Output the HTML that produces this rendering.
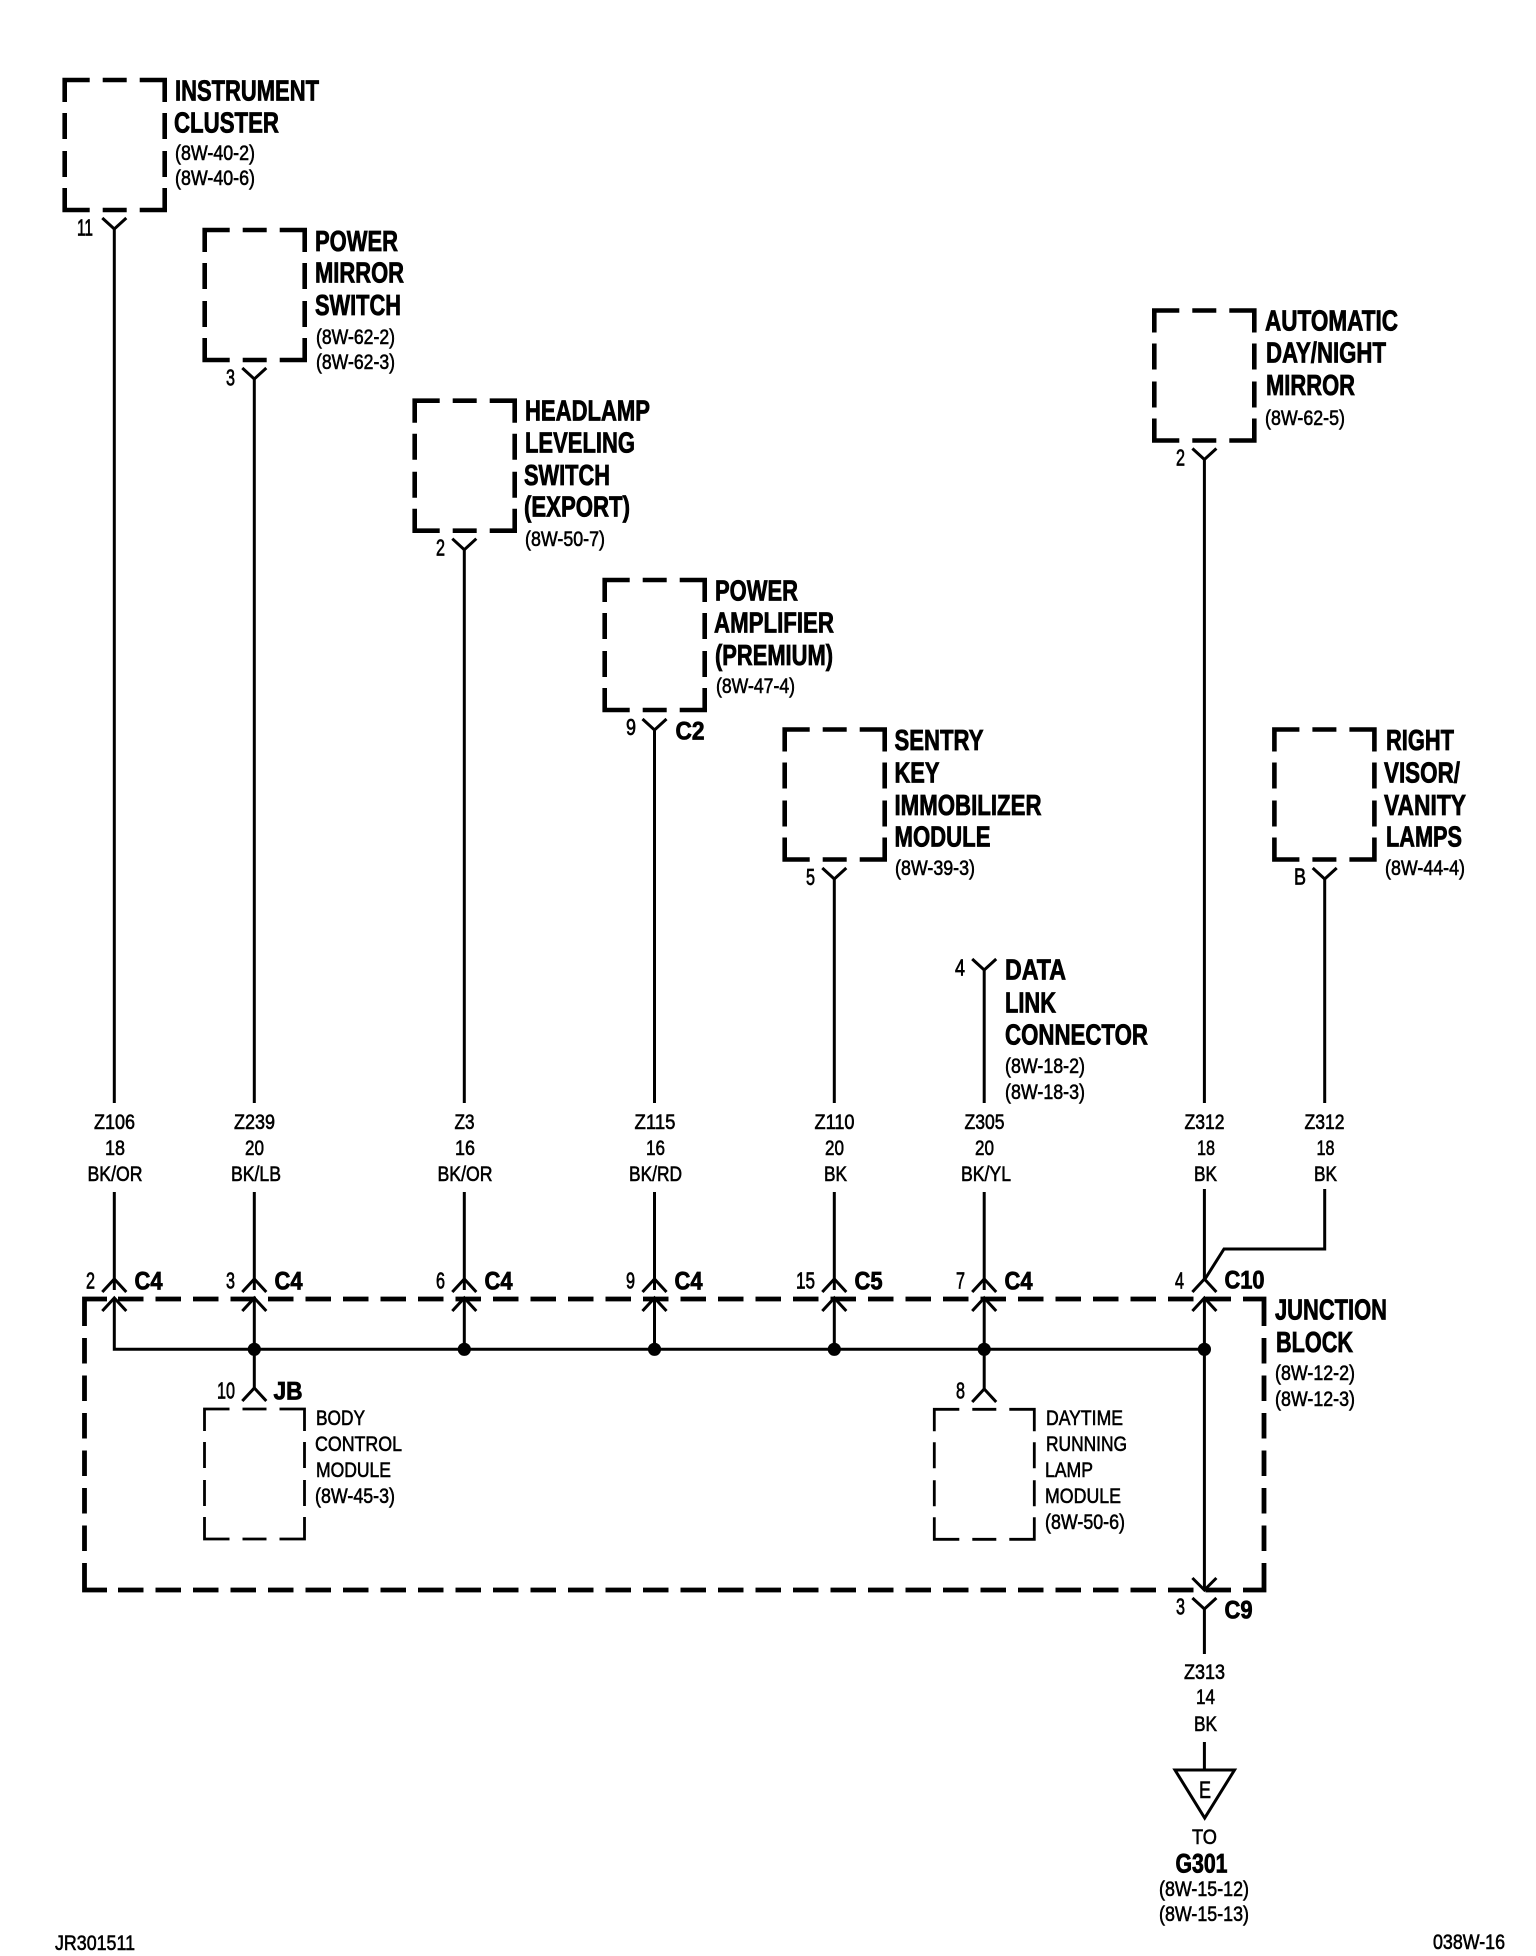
<!DOCTYPE html>
<html>
<head>
<meta charset="utf-8">
<style>
html,body{margin:0;padding:0;background:#fff}
svg{display:block}
text{font-family:"Liberation Sans",Arial,sans-serif;fill:#000;stroke:#000}
.b{font-weight:bold;font-size:29px;stroke-width:.8px;transform:translate(-1px,0)}
.r{font-size:21.5px;stroke-width:.6px;transform:translate(0,-1px)}
.n{font-size:23px;stroke-width:.7px;transform:translate(0,-.5px)}
.c{font-size:25px;font-weight:bold;stroke-width:.8px;transform:translate(-.5px,-.5px)}
.m{text-anchor:middle}
</style>
</head>
<body>
<svg xmlns="http://www.w3.org/2000/svg" width="1536" height="1956" viewBox="0 0 1536 1956">
<rect width="1536" height="1956" fill="#fff"/>
<defs>
<path id="box" fill="none" stroke="#000" d="M0 22V0H25M38 0H62M75 0H100V22M100 33V59M100 71V97M100 108V130H75M62 130H38M25 130H0V108M0 97V71M0 59V33"/>
<path id="yc" fill="none" stroke="#000" stroke-width="3" d="M-12 0L0 11L12 0"/>
<path id="ac" fill="none" stroke="#000" stroke-width="3" d="M-12 13L0 0L12 13"/>
</defs>

<!-- component boxes -->
<g stroke-width="4.6">
<use href="#box" x="64.7" y="80"/>
<use href="#box" x="204.7" y="230"/>
<use href="#box" x="414.7" y="400.7"/>
<use href="#box" x="604.7" y="580"/>
<use href="#box" x="784.7" y="729.5"/>
<use href="#box" x="1154.3" y="310.5"/>
<use href="#box" x="1274.4" y="729.5"/>
</g>
<g stroke-width="2.8">
<use href="#box" x="204.5" y="1409"/>
<use href="#box" x="934.3" y="1409.3"/>
</g>

<!-- junction block -->
<g fill="none" stroke="#000" stroke-width="4.8">
<path d="M84.5 1326V1299H107M1243 1299H1264V1326M84.5 1565V1590H107M1243 1590H1264V1565"/>
<path stroke-dasharray="25.5 12" d="M118 1299H1243M118 1590H1243M84.5 1338V1565M1264 1338V1565"/>
</g>

<!-- wires -->
<g fill="none" stroke="#000" stroke-width="3">
<path d="M114.3 229V1103M114.3 1192V1290"/>
<path d="M254.3 379V1103M254.3 1192V1290"/>
<path d="M464.3 549V1103M464.3 1192V1290"/>
<path d="M654.5 730V1103M654.5 1192V1290"/>
<path d="M834.3 879V1103M834.3 1192V1290"/>
<path d="M984.2 970V1103M984.2 1192V1290"/>
<path d="M1204.4 459V1103M1204.4 1189V1280"/>
<path d="M1324.7 879V1103M1324.7 1189V1249H1224L1204.4 1280"/>
<path d="M114.3 1298V1349.3H1204.4M254.3 1298V1388M464.3 1298V1349M654.5 1298V1349M834.3 1298V1349M984.2 1298V1390M1204.4 1298V1590"/>
<path d="M1204.4 1609V1654M1204.4 1742V1770"/>
<path stroke-width="3" d="M1175 1770H1234.5L1204.7 1818Z"/>
<path d="M1192.4 1578L1204.4 1590L1216.4 1578"/>
</g>

<!-- connector symbols -->
<use href="#yc" x="114.3" y="218"/>
<use href="#yc" x="254.3" y="368"/>
<use href="#yc" x="464.3" y="538.7"/>
<use href="#yc" x="654.5" y="719"/>
<use href="#yc" x="834.3" y="868"/>
<use href="#yc" x="984.2" y="959"/>
<use href="#yc" x="1204.4" y="448.5"/>
<use href="#yc" x="1324.7" y="868"/>
<use href="#yc" x="1204.4" y="1598"/>
<g>
<use href="#ac" x="114.3" y="1279"/><use href="#ac" x="114.3" y="1298"/>
<use href="#ac" x="254.3" y="1279"/><use href="#ac" x="254.3" y="1298"/>
<use href="#ac" x="464.3" y="1279"/><use href="#ac" x="464.3" y="1298"/>
<use href="#ac" x="654.5" y="1279"/><use href="#ac" x="654.5" y="1298"/>
<use href="#ac" x="834.3" y="1279"/><use href="#ac" x="834.3" y="1298"/>
<use href="#ac" x="984.2" y="1279"/><use href="#ac" x="984.2" y="1298"/>
<use href="#ac" x="1204.4" y="1279"/><use href="#ac" x="1204.4" y="1298"/>
<use href="#ac" x="254.3" y="1388"/>
<use href="#ac" x="984.2" y="1389"/>
</g>
<!-- splice dots -->
<g fill="#000">
<circle cx="254.3" cy="1349.3" r="6.6"/>
<circle cx="464.3" cy="1349.3" r="6.6"/>
<circle cx="654.5" cy="1349.3" r="6.6"/>
<circle cx="834.3" cy="1349.3" r="6.6"/>
<circle cx="984.2" cy="1349.3" r="6.6"/>
<circle cx="1204.4" cy="1349.3" r="6.6"/>
</g>

<!-- component labels -->
<text class="b" x="176" y="100.7" textLength="144" lengthAdjust="spacingAndGlyphs">INSTRUMENT</text>
<text class="b" x="175" y="132.7" textLength="105" lengthAdjust="spacingAndGlyphs">CLUSTER</text>
<text class="r" x="175" y="161" textLength="80" lengthAdjust="spacingAndGlyphs">(8W-40-2)</text>
<text class="r" x="175" y="186" textLength="80" lengthAdjust="spacingAndGlyphs">(8W-40-6)</text>

<text class="b" x="316" y="251" textLength="83" lengthAdjust="spacingAndGlyphs">POWER</text>
<text class="b" x="316" y="282.7" textLength="89" lengthAdjust="spacingAndGlyphs">MIRROR</text>
<text class="b" x="316" y="315" textLength="86" lengthAdjust="spacingAndGlyphs">SWITCH</text>
<text class="r" x="316" y="345" textLength="79" lengthAdjust="spacingAndGlyphs">(8W-62-2)</text>
<text class="r" x="316" y="370" textLength="79" lengthAdjust="spacingAndGlyphs">(8W-62-3)</text>

<text class="b" x="526" y="420.7" textLength="125" lengthAdjust="spacingAndGlyphs">HEADLAMP</text>
<text class="b" x="526" y="452.7" textLength="110" lengthAdjust="spacingAndGlyphs">LEVELING</text>
<text class="b" x="525" y="485" textLength="86" lengthAdjust="spacingAndGlyphs">SWITCH</text>
<text class="b" x="525" y="516.7" textLength="106" lengthAdjust="spacingAndGlyphs">(EXPORT)</text>
<text class="r" x="525" y="547" textLength="80" lengthAdjust="spacingAndGlyphs">(8W-50-7)</text>

<text class="b" x="716" y="600.7" textLength="83" lengthAdjust="spacingAndGlyphs">POWER</text>
<text class="b" x="715" y="632.7" textLength="120" lengthAdjust="spacingAndGlyphs">AMPLIFIER</text>
<text class="b" x="716" y="665" textLength="118" lengthAdjust="spacingAndGlyphs">(PREMIUM)</text>
<text class="r" x="716" y="694" textLength="79" lengthAdjust="spacingAndGlyphs">(8W-47-4)</text>

<text class="b" x="895.5" y="750" textLength="89" lengthAdjust="spacingAndGlyphs">SENTRY</text>
<text class="b" x="895.5" y="782.7" textLength="45" lengthAdjust="spacingAndGlyphs">KEY</text>
<text class="b" x="895.5" y="815" textLength="147" lengthAdjust="spacingAndGlyphs">IMMOBILIZER</text>
<text class="b" x="895.5" y="846.7" textLength="96" lengthAdjust="spacingAndGlyphs">MODULE</text>
<text class="r" x="895" y="876" textLength="80" lengthAdjust="spacingAndGlyphs">(8W-39-3)</text>

<text class="b" x="1006" y="979.3" textLength="61" lengthAdjust="spacingAndGlyphs">DATA</text>
<text class="b" x="1006" y="1012.7" textLength="51" lengthAdjust="spacingAndGlyphs">LINK</text>
<text class="b" x="1006" y="1044.3" textLength="143" lengthAdjust="spacingAndGlyphs">CONNECTOR</text>
<text class="r" x="1005" y="1074" textLength="80" lengthAdjust="spacingAndGlyphs">(8W-18-2)</text>
<text class="r" x="1005" y="1100" textLength="80" lengthAdjust="spacingAndGlyphs">(8W-18-3)</text>

<text class="b" x="1266" y="330.7" textLength="133" lengthAdjust="spacingAndGlyphs">AUTOMATIC</text>
<text class="b" x="1267" y="362.7" textLength="120" lengthAdjust="spacingAndGlyphs">DAY/NIGHT</text>
<text class="b" x="1267" y="395" textLength="89" lengthAdjust="spacingAndGlyphs">MIRROR</text>
<text class="r" x="1265" y="426" textLength="80" lengthAdjust="spacingAndGlyphs">(8W-62-5)</text>

<text class="b" x="1387" y="750" textLength="68" lengthAdjust="spacingAndGlyphs">RIGHT</text>
<text class="b" x="1385" y="782.7" textLength="76" lengthAdjust="spacingAndGlyphs">VISOR/</text>
<text class="b" x="1385" y="815" textLength="82" lengthAdjust="spacingAndGlyphs">VANITY</text>
<text class="b" x="1387" y="846.7" textLength="76" lengthAdjust="spacingAndGlyphs">LAMPS</text>
<text class="r" x="1385" y="876" textLength="80" lengthAdjust="spacingAndGlyphs">(8W-44-4)</text>

<text class="b" x="1276" y="1319.5" textLength="112" lengthAdjust="spacingAndGlyphs">JUNCTION</text>
<text class="b" x="1277" y="1352" textLength="77" lengthAdjust="spacingAndGlyphs">BLOCK</text>
<text class="r" x="1275" y="1381" textLength="80" lengthAdjust="spacingAndGlyphs">(8W-12-2)</text>
<text class="r" x="1275" y="1407" textLength="80" lengthAdjust="spacingAndGlyphs">(8W-12-3)</text>

<text class="r" x="316" y="1426.2" textLength="49" lengthAdjust="spacingAndGlyphs">BODY</text>
<text class="r" x="315" y="1452.2" textLength="87" lengthAdjust="spacingAndGlyphs">CONTROL</text>
<text class="r" x="316" y="1478.2" textLength="75" lengthAdjust="spacingAndGlyphs">MODULE</text>
<text class="r" x="315" y="1504" textLength="80" lengthAdjust="spacingAndGlyphs">(8W-45-3)</text>

<text class="r" x="1046" y="1426" textLength="77" lengthAdjust="spacingAndGlyphs">DAYTIME</text>
<text class="r" x="1046" y="1452" textLength="81" lengthAdjust="spacingAndGlyphs">RUNNING</text>
<text class="r" x="1045" y="1478" textLength="48" lengthAdjust="spacingAndGlyphs">LAMP</text>
<text class="r" x="1045" y="1504" textLength="76" lengthAdjust="spacingAndGlyphs">MODULE</text>
<text class="r" x="1045" y="1530" textLength="80" lengthAdjust="spacingAndGlyphs">(8W-50-6)</text>

<!-- pin numbers -->
<text class="n" x="77" y="236" textLength="16" lengthAdjust="spacingAndGlyphs">11</text>
<text class="n" x="226" y="386" textLength="9" lengthAdjust="spacingAndGlyphs">3</text>
<text class="n" x="436" y="556" textLength="9" lengthAdjust="spacingAndGlyphs">2</text>
<text class="n" x="626" y="735.5" textLength="10" lengthAdjust="spacingAndGlyphs">9</text>
<text class="c" x="676" y="740" textLength="29" lengthAdjust="spacingAndGlyphs">C2</text>
<text class="n" x="806" y="885.7" textLength="9" lengthAdjust="spacingAndGlyphs">5</text>
<text class="n" x="955" y="976" textLength="10" lengthAdjust="spacingAndGlyphs">4</text>
<text class="n" x="1176" y="466" textLength="9" lengthAdjust="spacingAndGlyphs">2</text>
<text class="n" x="1294" y="885" textLength="12" lengthAdjust="spacingAndGlyphs">B</text>

<text class="n" x="86" y="1289" textLength="9" lengthAdjust="spacingAndGlyphs">2</text>
<text class="c" x="135" y="1290" textLength="28" lengthAdjust="spacingAndGlyphs">C4</text>
<text class="n" x="226" y="1289" textLength="9" lengthAdjust="spacingAndGlyphs">3</text>
<text class="c" x="275" y="1290" textLength="28" lengthAdjust="spacingAndGlyphs">C4</text>
<text class="n" x="436" y="1289" textLength="9" lengthAdjust="spacingAndGlyphs">6</text>
<text class="c" x="485" y="1290" textLength="28" lengthAdjust="spacingAndGlyphs">C4</text>
<text class="n" x="626" y="1289" textLength="9" lengthAdjust="spacingAndGlyphs">9</text>
<text class="c" x="675" y="1290" textLength="28" lengthAdjust="spacingAndGlyphs">C4</text>
<text class="n" x="796" y="1289" textLength="19" lengthAdjust="spacingAndGlyphs">15</text>
<text class="c" x="855" y="1290" textLength="28" lengthAdjust="spacingAndGlyphs">C5</text>
<text class="n" x="956" y="1289" textLength="9" lengthAdjust="spacingAndGlyphs">7</text>
<text class="c" x="1005" y="1290" textLength="28" lengthAdjust="spacingAndGlyphs">C4</text>
<text class="n" x="1175" y="1289" textLength="9" lengthAdjust="spacingAndGlyphs">4</text>
<text class="c" x="1225" y="1289" textLength="40" lengthAdjust="spacingAndGlyphs">C10</text>
<text class="n" x="217" y="1399" textLength="18" lengthAdjust="spacingAndGlyphs">10</text>
<text class="c" x="274" y="1400" textLength="29" lengthAdjust="spacingAndGlyphs">JB</text>
<text class="n" x="956" y="1399" textLength="9" lengthAdjust="spacingAndGlyphs">8</text>
<text class="n" x="1176" y="1615" textLength="9" lengthAdjust="spacingAndGlyphs">3</text>
<text class="c" x="1225" y="1619" textLength="28" lengthAdjust="spacingAndGlyphs">C9</text>

<!-- wire labels -->
<text class="r m" x="114.5" y="1130" textLength="41" lengthAdjust="spacingAndGlyphs">Z106</text>
<text class="r m" x="115" y="1156" textLength="20" lengthAdjust="spacingAndGlyphs">18</text>
<text class="r m" x="115" y="1182" textLength="55" lengthAdjust="spacingAndGlyphs">BK/OR</text>

<text class="r m" x="254.5" y="1130" textLength="41" lengthAdjust="spacingAndGlyphs">Z239</text>
<text class="r m" x="254.5" y="1156" textLength="19" lengthAdjust="spacingAndGlyphs">20</text>
<text class="r m" x="256" y="1182" textLength="50" lengthAdjust="spacingAndGlyphs">BK/LB</text>

<text class="r m" x="464.5" y="1130" textLength="20" lengthAdjust="spacingAndGlyphs">Z3</text>
<text class="r m" x="465" y="1156" textLength="20" lengthAdjust="spacingAndGlyphs">16</text>
<text class="r m" x="465" y="1182" textLength="55" lengthAdjust="spacingAndGlyphs">BK/OR</text>

<text class="r m" x="655" y="1130" textLength="41" lengthAdjust="spacingAndGlyphs">Z115</text>
<text class="r m" x="655.5" y="1156" textLength="19" lengthAdjust="spacingAndGlyphs">16</text>
<text class="r m" x="655.5" y="1182" textLength="53" lengthAdjust="spacingAndGlyphs">BK/RD</text>

<text class="r m" x="834.5" y="1130" textLength="40" lengthAdjust="spacingAndGlyphs">Z110</text>
<text class="r m" x="834.5" y="1156" textLength="19" lengthAdjust="spacingAndGlyphs">20</text>
<text class="r m" x="835.5" y="1182" textLength="23" lengthAdjust="spacingAndGlyphs">BK</text>

<text class="r m" x="984.5" y="1130" textLength="40" lengthAdjust="spacingAndGlyphs">Z305</text>
<text class="r m" x="984.5" y="1156" textLength="19" lengthAdjust="spacingAndGlyphs">20</text>
<text class="r m" x="986" y="1182" textLength="50" lengthAdjust="spacingAndGlyphs">BK/YL</text>

<text class="r m" x="1204.5" y="1130" textLength="40" lengthAdjust="spacingAndGlyphs">Z312</text>
<text class="r m" x="1206" y="1156" textLength="18" lengthAdjust="spacingAndGlyphs">18</text>
<text class="r m" x="1205.5" y="1182" textLength="23" lengthAdjust="spacingAndGlyphs">BK</text>

<text class="r m" x="1324.5" y="1130" textLength="40" lengthAdjust="spacingAndGlyphs">Z312</text>
<text class="r m" x="1325.5" y="1156" textLength="18" lengthAdjust="spacingAndGlyphs">18</text>
<text class="r m" x="1325.5" y="1182" textLength="23" lengthAdjust="spacingAndGlyphs">BK</text>

<text class="r m" x="1204.5" y="1680" textLength="41" lengthAdjust="spacingAndGlyphs">Z313</text>
<text class="r m" x="1205.5" y="1705" textLength="19" lengthAdjust="spacingAndGlyphs">14</text>
<text class="r m" x="1205.5" y="1732" textLength="23" lengthAdjust="spacingAndGlyphs">BK</text>

<text class="r m" x="1205" y="1799" style="font-size:24px" textLength="12" lengthAdjust="spacingAndGlyphs">E</text>
<text class="r m" x="1204.5" y="1845" textLength="25" lengthAdjust="spacingAndGlyphs">TO</text>
<text class="c m" x="1202" y="1873" style="font-size:27px" textLength="52" lengthAdjust="spacingAndGlyphs">G301</text>
<text class="r m" x="1204" y="1897" textLength="90" lengthAdjust="spacingAndGlyphs">(8W-15-12)</text>
<text class="r m" x="1204" y="1922" textLength="90" lengthAdjust="spacingAndGlyphs">(8W-15-13)</text>

<text class="r" x="55" y="1951" textLength="80" lengthAdjust="spacingAndGlyphs">JR301511</text>
<text class="r" x="1433" y="1950" textLength="72" lengthAdjust="spacingAndGlyphs">038W-16</text>
</svg>
</body>
</html>
